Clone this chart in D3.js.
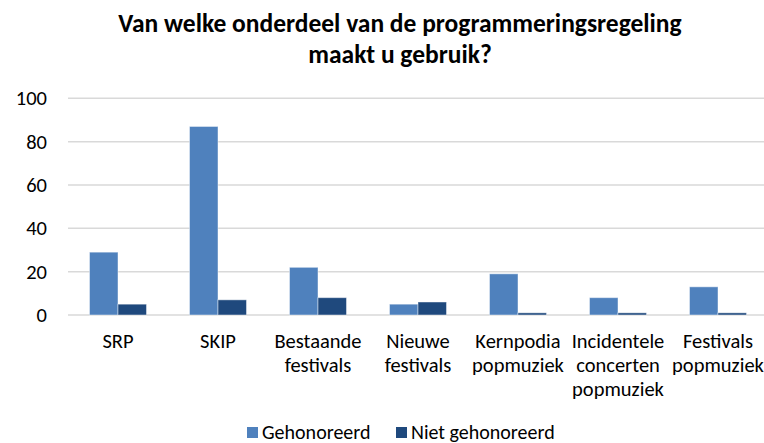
<!DOCTYPE html>
<html>
<head>
<meta charset="utf-8">
<script src="https://cdn.jsdelivr.net/npm/d3@7"></script>
<style>
  html, body { margin: 0; padding: 0; background: #fff; }
  svg { display: block; font-family: Carlito, "Open Sans", sans-serif; }
</style>
</head>
<body>
<svg id="chart" width="764" height="443"></svg>
<script>
// Categories (line-broken labels) and the two series
const categories = [
  ["SRP"],
  ["SKIP"],
  ["Bestaande", "festivals"],
  ["Nieuwe", "festivals"],
  ["Kernpodia", "popmuziek"],
  ["Incidentele", "concerten", "popmuziek"],
  ["Festivals", "popmuziek"]
];
const gehonoreerd = [29, 87, 22, 5, 19, 8, 13];
const nietGehonoreerd = [5, 7, 8, 6, 1, 1, 1];
const seriesNames = ["Gehonoreerd", "Niet gehonoreerd"];
const seriesColors = ["#4F81BD", "#1F497D"];
const yTicks = [0, 20, 40, 60, 80, 100];
const titleLines = ["Van welke onderdeel van de programmeringsregeling", "maakt u gebruik?"];

const svg = d3.select("#chart");
const plot = { left: 68, right: 768, top: 98.3, bottom: 315 };
const labelFont = 20.5;

const keys = categories.map((c, i) => i);
const x = d3.scaleBand().domain(keys).range([plot.left, plot.right])
  .paddingInner(0.43).paddingOuter(0.215);
const xs = d3.scaleBand().domain([0, 1]).range([0, x.bandwidth()]);
const y = d3.scaleLinear().domain([0, 100]).range([plot.bottom, plot.top]);

// Title
svg.append("g").selectAll("text").data(titleLines).join("text")
  .attr("x", 400).attr("y", (d, i) => 32 + i * 31)
  .attr("text-anchor", "middle")
  .attr("font-size", 25.5).attr("font-weight", "bold").attr("fill", "#000")
  .text(d => d);

// Gridlines
svg.append("g").selectAll("line").data(yTicks).join("line")
  .attr("x1", plot.left).attr("x2", plot.right)
  .attr("y1", d => y(d)).attr("y2", d => y(d))
  .attr("stroke", "#d9d9d9").attr("stroke-width", 1.5);

// Y axis labels
const yAxis = d3.axisLeft(y).tickValues(yTicks).tickSize(0).tickPadding(0);
const yg = svg.append("g").attr("transform", "translate(47,0)").call(yAxis);
yg.select(".domain").remove();
yg.selectAll("text").attr("font-size", labelFont).attr("fill", "#000")
  .attr("font-family", "Carlito, 'Open Sans', sans-serif");

// Bars
const data = [gehonoreerd, nietGehonoreerd];
const groups = svg.append("g").selectAll("g").data(keys).join("g")
  .attr("transform", d => `translate(${x(d)},0)`);
groups.selectAll("rect").data(i => data.map((s, k) => ({ k, v: s[i] }))).join("rect")
  .attr("x", d => xs(d.k))
  .attr("width", xs.bandwidth())
  .attr("y", d => y(d.v))
  .attr("height", d => y(0) - y(d.v))
  .attr("fill", d => seriesColors[d.k])
  .attr("stroke", "rgba(255,255,255,0.45)")
  .attr("stroke-width", 1);

// Category labels
const xl = svg.append("g");
categories.forEach((lines, i) => {
  xl.append("text")
    .attr("x", x(i) + x.bandwidth() / 2)
    .attr("y", 348)
    .attr("text-anchor", "middle")
    .attr("font-size", labelFont).attr("fill", "#000")
    .selectAll("tspan").data(lines).join("tspan")
    .attr("x", x(i) + x.bandwidth() / 2)
    .attr("dy", (d, j) => j === 0 ? 0 : 24)
    .text(d => d);
});

// Legend
const legendX = [247, 396];
const lg = svg.append("g").selectAll("g").data(seriesNames).join("g")
  .attr("transform", (d, i) => `translate(${legendX[i]},427)`);
lg.append("rect").attr("width", 11).attr("height", 11)
  .attr("fill", (d, i) => seriesColors[i]);
lg.append("text").attr("x", 15).attr("y", 12)
  .attr("font-size", 20).attr("fill", "#000").text(d => d);
</script>
</body>
</html>
